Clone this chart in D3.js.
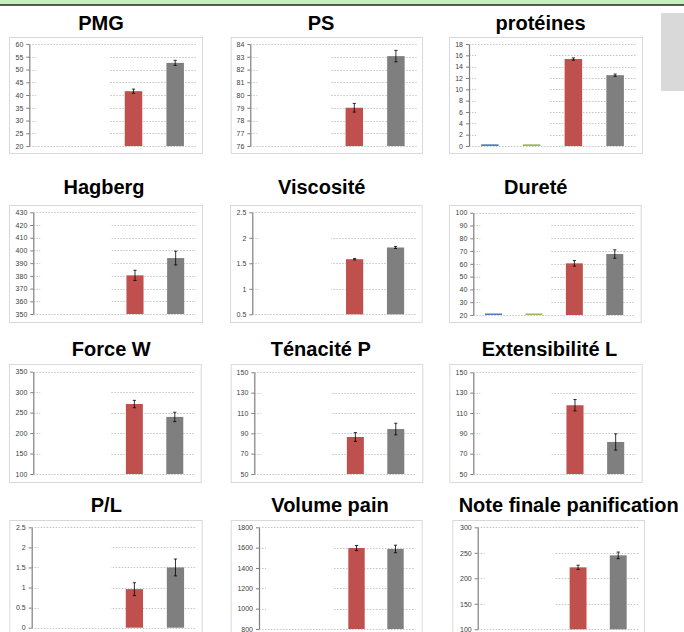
<!DOCTYPE html>
<html lang="fr">
<head>
<meta charset="utf-8">
<title>Qualité des blés</title>
<script src="https://cdn.jsdelivr.net/npm/d3@7"></script>
<style>
  body { margin: 0; background: #fff; }
  svg { display: block; }
</style>
</head>
<body>
<script>
// ---- data ----
var titles = ["PMG", "PS", "protéines", "Hagberg", "Viscosité", "Dureté",
              "Force W", "Ténacité P", "Extensibilité L", "P/L", "Volume pain",
              "Note finale panification"];
var series = ["s1", "s2", "s3", "s4"];
var seriesColors = ["#4f81bd", "#9bbb59", "#c0504d", "#7f7f7f"];

var values = [
  [null, null, 41.5, 52.6],
  [null, null, 79.0, 83.05],
  [0.3, 0.3, 15.35, 12.5],
  [null, null, 380.4, 394],
  [null, null, 1.58, 1.81],
  [21.2, 21.2, 60.4, 67.7],
  [null, null, 271, 239.5],
  [null, null, 86.4, 94.2],
  [null, null, 117.6, 81.5],
  [null, null, 0.96, 1.5],
  [null, null, 1596, 1587],
  [null, null, 221.5, 245]
];
var errors = [
  [0, 0, 0.8, 1.0],
  [0, 0, 0.34, 0.45],
  [0, 0, 0.2, 0.2],
  [0, 0, 4, 5.4],
  [0, 0, 0.012, 0.02],
  [0, 0, 2.2, 3.3],
  [0, 0, 9, 11.4],
  [0, 0, 4.3, 5.7],
  [0, 0, 5.6, 8],
  [0, 0, 0.16, 0.21],
  [0, 0, 25, 37],
  [0, 0, 4.2, 6.5]
];
var yTicks = [
  [20, 25, 30, 35, 40, 45, 50, 55, 60],
  [76, 77, 78, 79, 80, 81, 82, 83, 84],
  [0, 2, 4, 6, 8, 10, 12, 14, 16, 18],
  [350, 360, 370, 380, 390, 400, 410, 420, 430],
  [0.5, 1, 1.5, 2, 2.5],
  [20, 30, 40, 50, 60, 70, 80, 90, 100],
  [100, 150, 200, 250, 300, 350],
  [50, 70, 90, 110, 130, 150],
  [50, 70, 90, 110, 130, 150],
  [0, 0.5, 1, 1.5, 2, 2.5],
  [800, 1000, 1200, 1400, 1600, 1800],
  [100, 150, 200, 250, 300]
];

// ---- layout (box, plot area, title position) ----
var layout = [
  {box: [9, 37, 202, 153],      ax: 29.3,  right: 196,   top: 44,    bottom: 146,   tx: 101,   ty: 30},
  {box: [230.7, 37, 422, 153],  ax: 250.3, right: 416.7, top: 44,    bottom: 146,   tx: 321,   ty: 30},
  {box: [449, 37, 642, 153],    ax: 469,   right: 636,   top: 44,    bottom: 146,   tx: 540.5, ty: 30},
  {box: [9, 205, 202, 322],     ax: 33.3,  right: 196,   top: 212.3, bottom: 314,   tx: 104,   ty: 194},
  {box: [230, 205, 421.7, 322], ax: 252.3, right: 416,   top: 212.3, bottom: 314.3, tx: 321.7, ty: 194},
  {box: [449, 205, 640.7, 322], ax: 473.3, right: 635,   top: 212.7, bottom: 315,   tx: 535.8, ty: 194},
  {box: [9, 364, 200.7, 482],   ax: 33.3,  right: 195,   top: 371.7, bottom: 474,   tx: 111.3, ty: 355.7},
  {box: [230.7, 364, 422.3, 482], ax: 254.3, right: 416, top: 372.3, bottom: 474,   tx: 320.8, ty: 355.7},
  {box: [449.3, 364, 641.7, 482], ax: 473.3, right: 636, top: 372.3, bottom: 474,   tx: 549.5, ty: 355.7},
  {box: [9.3, 520, 201.7, 645], ax: 31.7,  right: 196,   top: 527.3, bottom: 627.7, tx: 106.3, ty: 512},
  {box: [230.7, 520, 421.7, 645], ax: 259, right: 415,   top: 527.3, bottom: 629,   tx: 330,   ty: 512},
  {box: [452.3, 520, 644, 645], ax: 477.7, right: 638.3, top: 527.3, bottom: 629.3, tx: 568.7, ty: 512}
];

var w = 684, h = 632;
var svg = d3.select("body").append("svg")
            .attr("width", w)
            .attr("height", h);

// slide header band
svg.append("rect").attr("x", 0).attr("y", 0).attr("width", w).attr("height", 4.5)
   .attr("fill", "#c4f0bc");
svg.append("line").attr("x1", 0).attr("x2", w).attr("y1", 5).attr("y2", 5)
   .attr("stroke", "#222").attr("stroke-width", 1.6);
svg.append("rect").attr("x", 661).attr("y", 13).attr("width", 30).attr("height", 78)
   .attr("fill", "#d9d9d9");

titles.forEach(function(title, i) {
  var L = layout[i];
  var g = svg.append("g");

  g.append("rect")
   .attr("x", L.box[0] + 0.5).attr("y", L.box[1] + 0.5)
   .attr("width", L.box[2] - L.box[0]).attr("height", L.box[3] - L.box[1])
   .attr("fill", "#fff").attr("stroke", "#d9d9d9").attr("stroke-width", 1);

  g.append("text")
   .attr("x", L.tx).attr("y", L.ty)
   .attr("text-anchor", "middle")
   .style("font-family", "'Liberation Sans', Arial, sans-serif")
   .style("font-weight", "bold")
   .style("font-size", "20px")
   .attr("fill", "#000")
   .text(title);

  var ticks = yTicks[i];
  var yScale = d3.scaleLinear()
                 .domain([ticks[0], ticks[ticks.length - 1]])
                 .range([L.bottom, L.top]);
  var xScale = d3.scaleBand()
                 .domain(series)
                 .range([L.ax, L.right])
                 .paddingInner(0.58)
                 .paddingOuter(0.29);

  // gridlines
  g.selectAll("line.grid")
   .data(ticks)
   .enter()
   .append("line")
   .attr("class", "grid")
   .attr("x1", L.ax).attr("x2", L.right)
   .attr("y1", function(d) { return Math.round(yScale(d)) + 0.5; })
   .attr("y2", function(d) { return Math.round(yScale(d)) + 0.5; })
   .attr("stroke", "#b5b5b5")
   .attr("stroke-width", 0.8)
   .attr("stroke-dasharray", "1.5,1.5");

  // white cover over the first two categories
  g.append("rect")
   .attr("x", L.ax + 7)
   .attr("y", yScale(ticks[ticks.length - 1]) + 2)
   .attr("width", L.ax + 2 * xScale.step() - 3 - (L.ax + 7))
   .attr("height", yScale(ticks[0]) - yScale(ticks[ticks.length - 1]) - 3.5)
   .attr("fill", "#fff");

  var rows = series.map(function(s, j) {
    return {s: s, v: values[i][j], e: errors[i][j], c: seriesColors[j]};
  }).filter(function(d) { return d.v !== null; });

  g.selectAll("rect.bar")
   .data(rows)
   .enter()
   .append("rect")
   .attr("class", "bar")
   .attr("x", function(d) { return xScale(d.s); })
   .attr("width", xScale.bandwidth())
   .attr("y", function(d) { return yScale(d.v); })
   .attr("height", function(d) { return yScale(ticks[0]) - yScale(d.v); })
   .attr("fill", function(d) { return d.c; });

  var eb = rows.filter(function(d) { return d.e > 0; });
  g.selectAll("line.err")
   .data(eb)
   .enter()
   .append("line")
   .attr("class", "err")
   .attr("x1", function(d) { return xScale(d.s) + xScale.bandwidth() / 2; })
   .attr("x2", function(d) { return xScale(d.s) + xScale.bandwidth() / 2; })
   .attr("y1", function(d) { return yScale(d.v - d.e); })
   .attr("y2", function(d) { return yScale(d.v + d.e); })
   .attr("stroke", "#000").attr("stroke-width", 0.8);
  [-1, 1].forEach(function(sg) {
    g.selectAll("line.cap" + sg)
     .data(eb)
     .enter()
     .append("line")
     .attr("x1", function(d) { return xScale(d.s) + xScale.bandwidth() / 2 - 1.6; })
     .attr("x2", function(d) { return xScale(d.s) + xScale.bandwidth() / 2 + 1.6; })
     .attr("y1", function(d) { return yScale(d.v + sg * d.e); })
     .attr("y2", function(d) { return yScale(d.v + sg * d.e); })
     .attr("stroke", "#000").attr("stroke-width", 0.8);
  });

  var yAxis = d3.axisLeft(yScale)
                .tickValues(ticks)
                .tickFormat(function(d) { return String(d); })
                .tickSizeInner(3)
                .tickSizeOuter(0)
                .tickPadding(3);
  var ag = g.append("g")
            .attr("transform", "translate(" + L.ax + ",0)")
            .call(yAxis);
  ag.select(".domain").attr("stroke", "#7f7f7f").attr("stroke-width", 1.2);
  ag.selectAll(".tick line").attr("stroke", "#7f7f7f");
  ag.selectAll(".tick text")
    .attr("fill", "#404040")
    .style("font-family", "'Liberation Sans', Arial, sans-serif")
    .style("font-size", "7px");
});
</script>
</body>
</html>
